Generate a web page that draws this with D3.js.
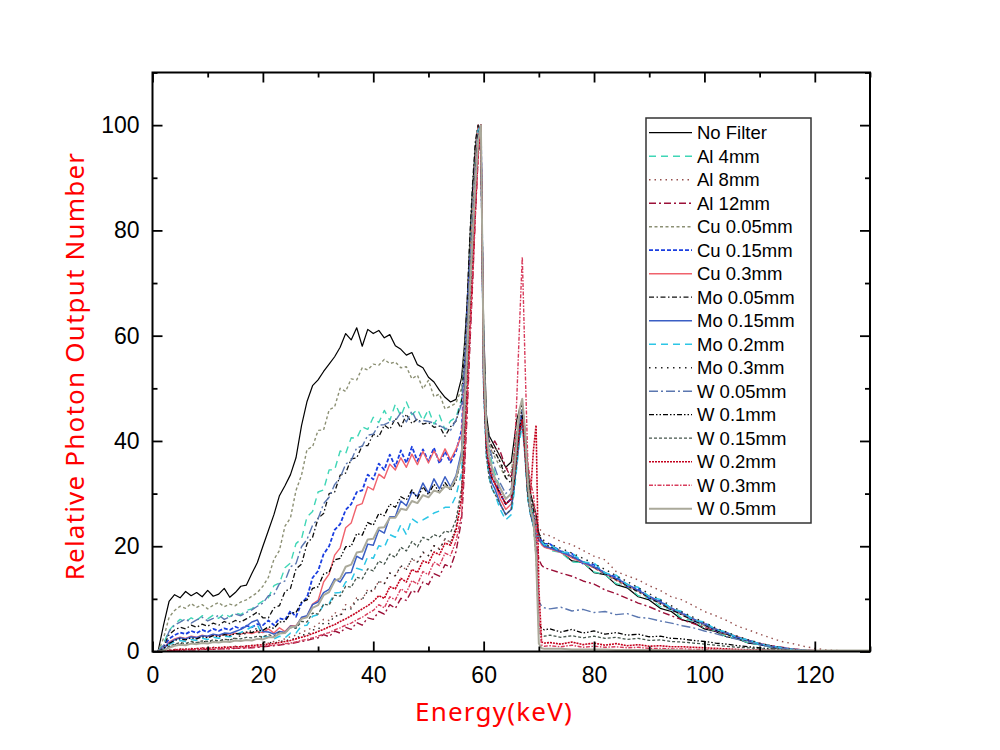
<!DOCTYPE html>
<html>
<head>
<meta charset="utf-8">
<script src="https://cdn.jsdelivr.net/npm/d3@7"></script>
<style>
body { margin: 0; background: #fff; }
svg text { font-family: "Liberation Sans", Arial, sans-serif; }
</style>
</head>
<body>
<div id="chart"></div>
<script>
// energy grid (keV) shared by every series
const energy = [
  1,2,3,4,5,6,7,8,9,10,11,12,13,14,15,16,17,18,19,20,21,22,23,24,25,26,27,28,29,30,31,32,33,34,35,36,37,38,39,40,41,42,43,44,45,46,47,48,49,50,51,52,53,54,55,56,
  56.5,57,57.5,58,58.5,59,59.5,60,60.5,61,61.5,62,63,64,65,65.5,66,66.5,67,67.5,68,68.5,69,69.5,70,70.5,71,
  72,74,76,78,80,82,84,86,88,90,92,94,96,98,100,102,104,106,108,110,112,114,116,118,120,122,124,126,128,130
]

const noFilter = [
  0,5,9.5,10.8,10.2,11.4,10.6,11.2,10.4,11.6, 10.5,10.9,12.0,10.3,11.2,12.4,12.6,14.8,16.9,20.0, 23.0,26.0,29.6,31.5,33.6,36.8,42.9,47.5,50.5,51.6, 53.2,54.6,56.0,57.8,60.4,59.2,61.5,58.0,61.2,60.4, 61.0,59.6,60.2,58.1,57.4,56.3,56.8,54.5,53.9,52.1, 51.2,49.6,48.3,47.4,47.9,52.0,
  58,66,78,88,96,100,97,62,45,41,40,39,37,35,36,40,44,46,47,42,35,30,28,26,22,20.8,20.2,
  19.6,18.9,17.2,16.9,15.0,14.6,12.7,12.1,10.4,9.8,8.2,7.6,6.0,5.5,4.3,3.8,2.8,2.4,1.6,1.3,0.8,0.5,0.3,0.2,0.1,0,0,0,0,0
]
const al4 = [
  0,1.5,4.0,5.2,6.1,5.6,6.4,5.9,6.8,6.2, 6.9,6.3,7.2,6.6,7.4,7.0,7.8,8.1,8.9,9.6,
  10.2,12.5,13.0,15.9,16.8,20.5,21.4,25.6,26.6,30.3,30.7,34.5,34.5,38.1,37.6,40.6,40.5,42.7,42.2,44.5,43.5,45.8,43.9,47.0,44.7,47.4,45.0,46.0,43.9,46.0,43.2,44.9,42.1,43.8,44.5,48.0,
  55,63,74,84,93,99,100,58,42,38,36,34,31,29,30,34,39,43,45,40,33,28,26,24,21.5,20.6,20.1,
  19.2,18.8,17.0,16.9,15.1,14.6,12.9,12.4,10.6,10.1,8.5,8.0,6.2,5.9,4.4,4.0,2.8,2.5,1.6,1.3,0.8,0.5,0.3,0.2,0.1,0,0,0,0,0
]
const al8 = [
  0,0.1,0.3,0.4,0.5,0.5,0.6,0.6,0.7,0.7, 0.8,0.8,0.9,0.9,1.0,1.0,1.1,1.2,1.3,1.5, 1.6,1.9,2.1,2.4,2.8,3.1,3.6,4.1,4.5,5.2, 6.1,5.9,7.4,7.0,8.9,8.4,10.2,9.9,11.8,11.3, 13.4,12.8,14.9,14.3,16.2,15.6,17.6,16.9,18.8,18.2, 20.1,19.5,21.4,20.7,23.5,30.0,
  40,50,62,73,85,95,100,56,42,39,38,39,37,35,34,37,41,44,46,40,33,30,28,26,23.5,22.8,22.2,
  22.0,20.9,20.3,19.2,18.1,17.4,15.2,14.4,13.6,12.5,11.6,10.4,9.8,8.7,7.6,6.8,5.9,4.8,4.1,3.3,2.6,1.9,1.5,1.0,0.6,0.3,0.2,0.1,0.1,0
]
const al12 = [
  0,0,0.1,0.2,0.2,0.3,0.3,0.3,0.4,0.4, 0.4,0.5,0.5,0.5,0.6,0.6,0.7,0.7,0.8,0.9, 1.0,1.1,1.2,1.4,1.5,1.7,1.9,2.1,2.4,2.6, 3.2,2.8,3.9,3.5,4.6,4.2,5.5,5.0,6.4,6.1, 7.6,7.1,8.9,8.2,10.1,9.7,11.6,11.1,13.2,12.7, 14.8,14.3,16.5,16.0,19.0,25.0,
  34,45,58,70,83,94,100,57,43,40,39,40,38,35,33,36,40,43,45,39,32,28,26,22,17.5,16.4,15.9,
  15.6,14.9,14.3,13.4,12.8,11.7,11.0,10.1,9.2,8.5,7.6,6.8,6.0,5.3,4.6,3.9,3.2,2.6,2.0,1.5,1.1,0.8,0.5,0.3,0.2,0.1,0,0,0,0
]
const cu005 = [
  0,2.5,6.5,7.8,8.6,8.2,9.1,8.4,8.9,8.1, 8.8,9.3,8.5,9.0,8.7,9.4,9.8,10.5,11.2,12.4,
  14.1,17.5,19.2,23.8,25.4,30.6,33.5,38.4,38.9,42.0,42.1,45.9,46.5,50.0,49.4,51.8,51.6,53.9,53.5,54.6,54.4,55.5,54.7,55.0,53.9,54.1,51.8,52.5,49.9,51.5,48.4,48.9,46.1,46.6,47.2,50.0,
  57,65,76,86,95,100,98,60,44,40,38,37,35,33,34,38,42,45,46,41,34,29,27,25,22,21.3,20.6,
  19.8,19.0,17.9,16.8,15.9,14.6,13.5,12.2,11.3,10.1,9.0,7.8,6.9,5.8,4.9,4.0,3.2,2.5,1.9,1.4,1.0,0.6,0.4,0.2,0.1,0,0,0,0,0
]
const cu015 = [
  0,0.8,2.4,3.1,3.6,3.3,3.9,3.5,4.1,3.7, 4.3,3.9,4.4,4.1,4.7,4.3,4.9,4.6,5.2,5.0,
  5.9,5.0,6.3,6.0,7.7,6.6,9.2,10.3,14.0,15.3,18.5,20.0,23.1,24.2,26.9,28.0,30.3,30.6,33.6,32.7,35.7,34.5,37.4,35.1,38.2,35.8,38.9,36.2,38.4,36.1,38.7,35.7,38.0,35.9,38.0,42.0,
  52,64,74,79,90,99,100,54,40,36,34,33,30,28,29,32,37,42,45,39,31,27,25,23,21.8,21.0,20.5,
  20.4,19.0,18.6,16.7,16.5,14.7,14.2,12.4,11.9,10.1,9.6,7.9,7.4,5.8,5.4,4.0,3.6,2.5,2.1,1.4,1.0,0.7,0.4,0.2,0.1,0,0,0,0,0
]
const cu03 = [
  0,0.6,1.8,2.4,2.7,2.5,2.9,2.7,3.1,2.8, 3.2,3.0,3.3,3.1,3.5,3.3,3.6,3.4,3.8,3.6,
  4.3,3.5,4.5,3.8,4.9,4.9,6.4,6.7,9.0,9.7,13.2,14.7,18.3,19.7,23.5,24.4,27.7,28.1,31.3,30.7,33.7,32.9,35.6,34.5,36.8,35.0,37.5,35.5,38.0,35.8,38.1,36.2,38.5,36.4,38.5,41.0,
  50,61,72,82,92,100,99,52,39,35,33,32,29,27,28,31,36,41,44,38,30,27,25,23,21.5,20.3,19.8,
  19.5,18.8,17.8,16.9,15.9,14.9,13.6,12.6,11.5,10.4,9.3,8.2,7.1,6.1,5.2,4.3,3.5,2.8,2.1,1.5,1.1,0.7,0.4,0.2,0.1,0,0,0,0,0
]
const mo005 = [
  0,1.0,3.2,4.1,4.6,4.3,5.0,4.6,5.2,4.8, 5.4,5.0,5.7,5.3,5.9,5.6,6.2,6.8,7.5,6.4,
  6.4,8.3,8.7,11.4,12.0,15.7,16.6,20.5,21.7,25.3,26.2,30.0,30.3,33.5,33.9,36.6,36.8,39.1,39.1,41.3,40.8,43.0,42.2,44.3,42.5,45.1,43.3,44.2,43.2,43.5,42.6,42.8,40.9,42.7,43.8,47.5,
  56,66,79,89,97,100,94,55,44,40,39,38,36,33,32,36,41,44,46,40,33,29,27,25,22.5,21,20.4,
  19.9,19.1,18.0,17.1,16.0,14.8,13.7,12.5,11.4,10.3,9.1,8.0,6.9,5.9,5.0,4.1,3.3,2.6,2.0,1.4,1.0,0.6,0.4,0.2,0.1,0,0,0,0,0
]
const mo015 = [
  0,0.5,1.6,2.2,2.6,2.4,2.8,2.6,3.0,2.9, 3.3,3.1,3.5,3.4,3.8,4.2,4.8,5.6,6.0,3.8,
  3.7,3.3,3.8,3.6,4.8,4.7,6.5,6.8,8.9,9.4,11.2,11.8,13.8,13.2,14.9,15.0,18.1,17.5,20.4,20.2,23.1,22.5,25.6,25.6,28.6,27.7,30.3,29.5,32.0,30.1,32.8,30.9,33.2,31.3,33.4,38.0,
  48,60,71,78,89,98,100,51,38,34,32,31,28,26,27,31,36,41,44,38,30,26,24,22,21.2,20.6,20.0,
  19.7,18.9,18.1,17.0,16.1,15.0,13.9,12.8,11.6,10.5,9.4,8.3,7.2,6.2,5.2,4.3,3.5,2.7,2.1,1.5,1.0,0.7,0.4,0.2,0.1,0,0,0,0,0
]
const mo02 = [
  0,0.4,1.3,1.8,2.1,1.9,2.3,2.1,2.5,2.3, 2.7,2.5,2.9,2.8,3.2,3.6,4.1,4.7,5.1,2.8,
  2.8,2.4,2.9,2.6,3.5,3.5,4.9,5.0,6.7,7.0,8.9,9.1,11.1,11.2,13.2,13.5,15.8,15.5,18.0,17.7,20.1,19.8,22.2,21.7,24.1,22.2,25.2,24.5,25.0,25.6,26.3,26.7,27.4,27.4,29.6,34.0,
  44,56,69,80,90,99,100,50,37,33,31,30,27,25,26,30,35,40,43,37,29,26,24,22.5,21.5,20.9,20.3,
  20.3,18.9,18.7,17.0,16.8,14.9,14.5,12.7,12.2,10.4,9.9,8.1,7.6,6.0,5.6,4.2,3.7,2.6,2.2,1.4,1.1,0.7,0.4,0.2,0.1,0,0,0,0,0
]
const mo03 = [
  0,0.3,0.9,1.3,1.5,1.4,1.7,1.6,1.9,1.8, 2.1,2.0,2.3,2.2,2.6,3.0,3.5,4.0,4.4,1.8,
  1.8,1.5,2.0,1.9,2.4,2.4,3.2,3.1,4.1,4.2,5.4,5.3,6.8,6.7,8.1,8.1,9.8,9.9,11.5,11.6,13.2,12.9,14.9,14.4,16.3,15.6,17.6,17.0,18.9,18.2,20.1,19.4,21.4,20.8,23.6,30.0,
  42,52,63,73,85,96,100,53,40,38,37,38,36,34,33,35,39,42,44,39,32,28,26,24,22.4,21.6,21.0,
  20.4,19.6,18.7,17.7,16.7,15.6,14.4,13.3,12.1,11.0,9.8,8.7,7.5,6.5,5.5,4.5,3.7,2.9,2.2,1.6,1.1,0.7,0.4,0.2,0.1,0,0,0,0,0
]
const w005 = [
  0,1.2,3.8,5.0,5.6,6.2,5.4,6.0,6.5,5.8, 6.3,6.9,6.1,6.6,7.1,6.8,7.4,7.9,8.6,9.2,
  10.6,10.8,12.9,13.4,16.1,16.7,19.9,21.3,24.0,25.2,28.1,29.3,31.7,33.0,35.6,36.3,38.7,39.0,41.1,41.3,43.0,43.1,43.6,43.8,45.4,43.6,45.7,43.5,43.9,43.7,43.4,42.9,42.4,42.0,44.0,47.0,
  54,62,73,83,92,98,100,57,43,39,37,35,32,30,31,35,40,44,46,39,32,28,26,22,9.5,8.6,8.3,
  8.1,8.4,7.7,8.0,7.4,7.6,7.0,7.2,6.5,6.3,5.8,5.4,4.9,4.5,3.9,3.4,2.8,2.3,1.8,1.3,0.9,0.6,0.4,0.2,0.1,0,0,0,0,0
]
const w01 = [
  0,0.5,1.5,2.1,2.4,2.2,2.6,2.4,2.8,2.6, 3.0,2.8,3.2,3.0,3.4,3.3,3.7,3.6,4.0,4.0,
  4.7,4.4,5.6,5.7,7.3,7.4,9.4,9.8,12.0,12.3,14.7,15.1,17.4,17.7,19.9,20.0,22.4,22.1,24.5,24.0,26.2,25.8,28.0,27.4,29.4,28.8,30.7,29.1,31.3,29.8,31.8,30.2,32.1,30.6,32.5,37.0,
  47,58,70,80,90,98,100,52,39,35,33,32,30,28,29,32,37,42,45,38,30,27,25,20,5.2,4.4,4.1,
  4.3,3.7,4.2,3.5,3.9,3.3,3.6,3.1,3.3,2.8,2.9,2.5,2.4,2.1,1.9,1.6,1.4,1.1,0.9,0.7,0.5,0.3,0.2,0.1,0.1,0,0,0,0,0
]
const w015 = [
  0,0.3,1.0,1.4,1.7,1.5,1.9,1.7,2.0,1.9, 2.2,2.0,2.3,2.2,2.5,2.4,2.7,2.6,2.9,2.8,
  3.2,2.9,3.7,3.5,4.6,4.4,5.7,5.6,7.3,7.1,9.0,8.8,10.7,10.5,12.4,12.2,14.1,13.8,15.7,15.3,17.2,16.6,18.5,17.9,19.8,19.1,20.9,19.9,21.7,21.2,22.2,21.8,22.9,22.6,25.0,31.0,
  41,52,65,76,87,97,100,50,37,33,31,30,28,26,27,31,36,41,44,37,29,26,24,18,3.6,3.2,2.9,
  3.1,2.7,3.0,2.6,2.9,2.5,2.7,2.3,2.5,2.1,2.2,1.9,1.8,1.6,1.4,1.2,1.0,0.8,0.7,0.5,0.4,0.3,0.2,0.1,0.1,0.1,0.1,0.1,0.1,0.1
]
const w02 = [
  0,0,0.2,0.3,0.4,0.4,0.5,0.5,0.6,0.6, 0.7,0.7,0.8,0.8,0.9,0.9,1.0,1.1,1.2,1.3, 1.4,1.5,1.7,1.9,2.1,2.4,2.7,3.0,3.4,3.8, 4.2,4.7,5.1,5.7,6.2,6.8,7.4,8.1,8.7,9.5, 10.6,10.1,12.3,11.9,13.9,13.2,15.6,15.0,17.2,16.8, 18.9,18.4,20.6,20.2,23.0,29.0,
  38,49,61,72,84,95,100,52,39,35,33,32,30,28,29,33,38,42,44,38,31,30,38,43,12,1.8,1.6,
  1.7,1.4,1.8,1.3,1.6,1.2,1.5,1.1,1.3,1.0,1.1,0.9,0.9,0.8,0.7,0.6,0.5,0.4,0.3,0.3,0.2,0.2,0.1,0.1,0.1,0,0,0,0,0
]
const w03 = [
  0,0,0.1,0.2,0.2,0.3,0.3,0.3,0.4,0.4, 0.4,0.5,0.5,0.6,0.6,0.7,0.7,0.8,0.9,1.0, 1.1,1.2,1.3,1.5,1.6,1.8,2.1,2.3,2.6,2.9, 3.3,3.6,4.1,4.5,5.0,5.4,6.0,6.5,7.2,7.8, 8.9,8.3,10.4,9.8,11.9,11.2,13.5,12.8,15.2,14.6, 17.0,16.3,18.7,18.2,21.0,26.0,
  35,46,59,71,83,94,100,54,40,36,34,33,31,29,30,36,48,62,75,55,36,32,30,25,6,1.2,1.0,
  1.1,0.9,1.2,0.8,1.0,0.8,0.9,0.7,0.8,0.6,0.6,0.5,0.5,0.4,0.4,0.3,0.3,0.2,0.2,0.2,0.1,0.1,0.1,0.1,0.1,0,0,0,0,0
]
const w05 = [
  0,0.2,0.7,1.1,1.3,1.2,1.5,1.4,1.6,1.5, 1.8,1.7,1.9,1.8,2.1,2.0,2.2,2.1,2.4,2.3,
  2.7,2.7,3.4,3.5,4.6,4.8,6.2,6.5,8.3,8.8,10.7,11.3,13.4,13.9,16.1,16.5,18.8,19.0,21.3,21.4,23.5,23.6,25.4,25.4,27.1,26.9,28.6,28.2,29.7,29.3,30.6,30.2,31.4,31.0,33.0,37.0,
  46,57,69,79,89,97,100,55,42,37,35,33,31,29,30,34,40,46,48,42,32,27,25,18,1.5,0.6,0.5,
  0.5,0.5,0.4,0.4,0.4,0.4,0.3,0.3,0.3,0.3,0.3,0.3,0.2,0.2,0.2,0.2,0.2,0.2,0.2,0.2,0.2,0.2,0.2,0.2,0.2,0.2,0.2,0.2,0.2,0.2
]

const seriesNames = ['No Filter','Al 4mm','Al 8mm','Al 12mm','Cu 0.05mm','Cu 0.15mm','Cu 0.3mm',
  'Mo 0.05mm','Mo 0.15mm','Mo 0.2mm','Mo 0.3mm','W 0.05mm','W 0.1mm','W 0.15mm','W 0.2mm','W 0.3mm','W 0.5mm']
const seriesValues = [noFilter, al4, al8, al12, cu005, cu015, cu03, mo005, mo015, mo02, mo03, w005, w01, w015, w02, w03, w05]

const colors = ['#000000','#3fd6b6','#96504e','#9b1038','#8c9074','#1a3ee0','#f0626c',
  '#111111','#3a5ec4','#2cc6e6','#222222','#5b77b0','#000000','#46564c','#c4001c','#d83c5c','#aaa99a']
const dashes = [null,'7,5','1.5,4','7,3,2,3','3,2.5','4,2',null,
  '5,2.5,1.5,2.5',null,'7,5','1.5,4.5','9,3,2,3','5,2,1.5,2,1.5,2','3,2','2,1','4,1.5,1.5,1.5',null]
const widths = [1.2,1.4,1.4,1.4,1.4,1.8,1.4,1.3,1.5,1.5,1.4,1.4,1.3,1.3,1.6,1.4,2]

const xTicks = [0,20,40,60,80,100,120]
const xMinor = [10,30,50,70,90,110,130]
const yTicks = [0,20,40,60,80,100]
const yMinor = [10,30,50,70,90,110]

let width = 1000
let height = 750

let svg = d3.select('#chart').append('svg')
  .attr('width', width)
  .attr('height', height)

let x = d3.scaleLinear().domain([0, 130]).range([152.5, 870])
let y = d3.scaleLinear().domain([0, 110]).range([651.5, 72.5])

svg.append('clipPath').attr('id', 'plot-clip')
  .append('rect')
  .attr('x', x(0)).attr('y', y(110))
  .attr('width', x(130) - x(0)).attr('height', y(0) - y(110))

let line = d3.line()
  .x(d => x(d[0]))
  .y(d => y(d[1]))

let linesGroup = svg.append('g').attr('clip-path', 'url(#plot-clip)')

seriesValues.forEach((vals, i) => {
  linesGroup.append('path')
    .datum(d3.zip(energy, vals))
    .attr('d', line)
    .attr('fill', 'none')
    .attr('stroke', colors[i])
    .attr('stroke-width', widths[i])
    .attr('stroke-dasharray', dashes[i])
    .attr('stroke-linejoin', 'round')
})

// axes: ticks point inwards on all four sides
function styleAxis(g) {
  g.select('.domain').remove()
  g.selectAll('.tick line').attr('stroke', '#000').attr('stroke-width', 1.8)
  g.selectAll('.tick text').attr('fill', '#000').style('font-size', '23px')
    .style('font-family', '"Liberation Sans", Arial, sans-serif')
}

svg.append('g').attr('transform', `translate(0,${y(0)})`)
  .call(d3.axisBottom(x).tickValues(xTicks).tickSize(-10).tickPadding(15))
  .call(styleAxis)
svg.append('g').attr('transform', `translate(0,${y(0)})`)
  .call(d3.axisBottom(x).tickValues(xMinor).tickSize(-5).tickFormat(''))
  .call(styleAxis)
svg.append('g').attr('transform', `translate(0,${y(110)})`)
  .call(d3.axisTop(x).tickValues(xTicks).tickSize(-10).tickFormat(''))
  .call(styleAxis)
svg.append('g').attr('transform', `translate(0,${y(110)})`)
  .call(d3.axisTop(x).tickValues(xMinor).tickSize(-5).tickFormat(''))
  .call(styleAxis)

svg.append('g').attr('transform', `translate(${x(0)},0)`)
  .call(d3.axisLeft(y).tickValues(yTicks).tickSize(-10).tickPadding(13))
  .call(styleAxis)
svg.append('g').attr('transform', `translate(${x(0)},0)`)
  .call(d3.axisLeft(y).tickValues(yMinor).tickSize(-5).tickFormat(''))
  .call(styleAxis)
svg.append('g').attr('transform', `translate(${x(130)},0)`)
  .call(d3.axisRight(y).tickValues(yTicks).tickSize(-10).tickFormat(''))
  .call(styleAxis)
svg.append('g').attr('transform', `translate(${x(130)},0)`)
  .call(d3.axisRight(y).tickValues(yMinor).tickSize(-5).tickFormat(''))
  .call(styleAxis)

svg.append('rect')
  .attr('x', x(0)).attr('y', y(110))
  .attr('width', x(130) - x(0)).attr('height', y(0) - y(110))
  .attr('fill', 'none')
  .attr('stroke', '#000')
  .attr('stroke-width', 2)

// legend
let legend = svg.append('g')
legend.append('rect')
  .attr('x', 646).attr('y', 118)
  .attr('width', 165).attr('height', 405)
  .attr('fill', '#fff')
  .attr('stroke', '#333')
  .attr('stroke-width', 1.5)

seriesNames.forEach((name, i) => {
  let ly = 132.7 + i * 23.5
  legend.append('line')
    .attr('x1', 649).attr('x2', 692)
    .attr('y1', ly).attr('y2', ly)
    .attr('stroke', colors[i])
    .attr('stroke-width', widths[i])
    .attr('stroke-dasharray', dashes[i])
  legend.append('text')
    .attr('x', 697).attr('y', ly)
    .attr('dy', '0.36em')
    .style('font-size', '18.5px')
    .attr('fill', '#000')
    .text(name)
})

// axis titles
svg.append('text')
  .attr('x', 494).attr('y', 721)
  .attr('text-anchor', 'middle')
  .attr('fill', '#ff0000')
  .style('font-family', '"Noto Sans", sans-serif')
  .style('font-size', '26px')
  .style('letter-spacing', '1.2px')
  .text('Energy(keV)')

svg.append('text')
  .attr('transform', 'translate(84,366) rotate(-90)')
  .attr('text-anchor', 'middle')
  .attr('fill', '#ff0000')
  .style('font-family', '"Noto Sans", sans-serif')
  .style('font-size', '26px')
  .style('letter-spacing', '1.2px')
  .text('Relative Photon Output Number')
</script>
</body>
</html>
